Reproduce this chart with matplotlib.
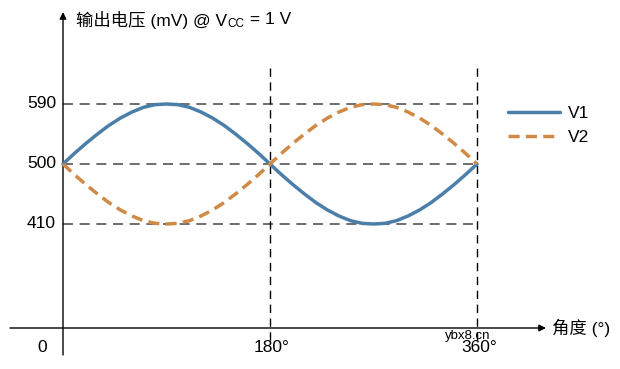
import matplotlib
matplotlib.use('Agg')
import matplotlib.pyplot as plt

plt.rcParams['font.family'] = ['Liberation Sans', 'Noto Sans CJK SC', 'DejaVu Sans']

# values, every 10 degrees
angle = list(range(0, 361, 10))
v1 = [500, 516, 531, 545, 558, 569, 578, 585, 589, 590, 589, 585, 578, 569, 558, 545, 531, 516,
      500, 484, 469, 455, 442, 431, 422, 415, 411, 410, 411, 415, 422, 431, 442, 455, 469, 484, 500]
v2 = [500, 484, 469, 455, 442, 431, 422, 415, 411, 410, 411, 415, 422, 431, 442, 455, 469, 484,
      500, 516, 531, 545, 558, 569, 578, 585, 589, 590, 589, 585, 578, 569, 558, 545, 531, 516, 500]
levels = [590, 500, 410]
level_labels = ['590', '500', '410']
vlines = [180, 360]
xtick_labels = ['180°', '360°']

W, H = 620, 369
fig = plt.figure(figsize=(W / 100, H / 100), dpi=100)
ax = fig.add_axes([0, 0, 1, 1])
ax.axis('off')

# pixel mapping: 0 deg -> px 63, 360 deg -> px 477 ; 500 mV -> py 164, 90 mV = 60 px
px0, pxs = 63.0, 414.0 / 360
py0, pys = 164.0, 60.0 / 90
ax.set_xlim(-px0 / pxs, (W - px0) / pxs)
ax.set_ylim(500 - (H - py0) / pys, 500 + py0 / pys)

def ypix(py):
    return 500 - (py - py0) / pys

def xpix(px):
    return (px - px0) / pxs

def ftext(px, py, s, **kw):
    return fig.text(px / W, 1 - py / H, s, **kw)

# guide lines
for lv in levels:
    ax.plot([0, 360], [lv, lv], color='#555555', lw=1.2, dashes=(6, 4), zorder=1)
for xv in vlines:
    ax.plot([xv, xv], [ypix(68), ypix(345)], color='black', lw=1.0, dashes=(6, 4), zorder=1)

# axes with arrows
ax.annotate('', xy=(0, ypix(12)), xytext=(0, ypix(355)),
            arrowprops=dict(arrowstyle='-|>', color='black', lw=1.0, mutation_scale=10, shrinkA=0, shrinkB=0))
ax.annotate('', xy=(xpix(546), ypix(328)), xytext=(xpix(10), ypix(328)),
            arrowprops=dict(arrowstyle='-|>', color='black', lw=1.0, mutation_scale=10, shrinkA=0, shrinkB=0))

# curves
ax.plot(angle, v1, color='#4b7fa9', lw=2.5, label='V1', zorder=3, solid_capstyle='round')
ax.plot(angle, v2, color='#d08a45', lw=2.5, dashes=(3.2, 1.8), label='V2', zorder=3)

leg = ax.legend(loc='upper left', bbox_to_anchor=(492 / W, 1 - 90 / H), frameon=False,
                fontsize=12.5, handlelength=3.0, handletextpad=0.5, labelspacing=0.55)

# tick labels
for lv, lab in zip(levels, level_labels):
    ftext(56, (164 - (lv - 500) * pys), lab, fontsize=12.5, ha='right', va='center')
ftext(42, 347, '0', fontsize=12.5, ha='center', va='center')
for xv, lab in zip(vlines, xtick_labels):
    ftext(px0 + xv * pxs + 2, 348, lab, fontsize=12.5, ha='center', va='center')
ftext(552, 328, '角度 (°)', fontsize=12.5, ha='left', va='center')

# y axis title with subscript
fig.canvas.draw()
r = fig.canvas.get_renderer()
t1 = ftext(76, 20, '输出电压 (mV) @ V', fontsize=12.5, ha='left', va='center')
bb = t1.get_window_extent(r)
t2 = fig.text(bb.x1 / W + 0.5 / W, 1 - 24 / H, 'CC', fontsize=8.5, ha='left', va='center')
bb2 = t2.get_window_extent(r)
fig.text(bb2.x1 / W, 1 - 20 / H, ' = 1 V', fontsize=12.5, ha='left', va='center')

# watermark (sits just above the 360° label, as in the source image)
ftext(445, 336, 'ybx8.cn', fontsize=9.5, ha='left', va='center', color='black')

fig.savefig('out.png', dpi=100)
